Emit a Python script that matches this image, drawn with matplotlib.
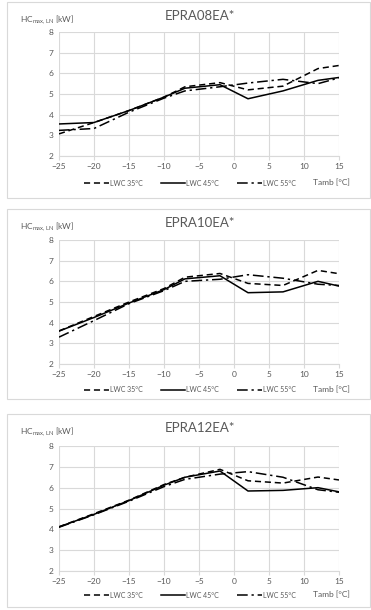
import matplotlib
matplotlib.use("Agg")
import matplotlib.pyplot as plt
from matplotlib.patches import Rectangle

plt.rcParams['font.family'] = ['Lato', 'DejaVu Sans']

W, H = 371, 610

tamb = [-25, -20, -15, -10, -7, -2, 2, 7, 12, 15]
models = ["EPRA08EA*", "EPRA10EA*", "EPRA12EA*"]

# LWC 35 / 45 / 55 °C capacity [kW] per model
lwc35 = [
    [3.07, 3.62, 4.2, 4.85, 5.35, 5.55, 5.2, 5.38, 6.23, 6.38],
    [3.6, 4.3, 5.0, 5.65, 6.2, 6.38, 5.9, 5.8, 6.53, 6.37],
    [4.12, 4.75, 5.4, 6.15, 6.5, 6.88, 6.33, 6.22, 6.51, 6.37],
]
lwc45 = [
    [3.55, 3.62, 4.2, 4.85, 5.28, 5.45, 4.77, 5.15, 5.66, 5.8],
    [3.59, 4.25, 4.95, 5.6, 6.12, 6.27, 5.45, 5.49, 6.0, 5.77],
    [4.12, 4.72, 5.38, 6.12, 6.5, 6.8, 5.84, 5.87, 6.0, 5.8],
]
lwc55 = [
    [3.24, 3.33, 4.12, 4.8, 5.15, 5.35, 5.53, 5.71, 5.5, 5.78],
    [3.3, 4.1, 4.92, 5.55, 6.0, 6.1, 6.32, 6.15, 5.86, 5.8],
    [4.1, 4.7, 5.35, 6.05, 6.4, 6.65, 6.77, 6.5, 5.9, 5.78],
]

series_labels = ["LWC 35°C", "LWC 45°C", "LWC 55°C"]
styles = [(0, (4, 2.5)), "-", (0, (7, 2.5, 1.5, 2.5))]

grey = "#595959"
grid = "#d9d9d9"

fig = plt.figure(figsize=(W / 100, H / 100), dpi=100)

# panel boxes (top, bottom) and plot areas (top, bottom) in pixels
boxes = [(2, 198), (209, 399), (414, 607)]
areas = [(32, 156), (240, 364), (446, 571)]
x0, x1 = 59, 339

for i in range(3):
    bt, bb = boxes[i]
    fig.patches.append(Rectangle((7 / W, 1 - bb / H), 363 / W, (bb - bt) / H,
                                 transform=fig.transFigure, fill=False,
                                 edgecolor=grid, lw=0.8))
    at, ab = areas[i]
    ax = fig.add_axes([x0 / W, 1 - ab / H, (x1 - x0) / W, (ab - at) / H])
    for vals, lab, ls in zip([lwc35[i], lwc45[i], lwc55[i]], series_labels, styles):
        ax.plot(tamb, vals, color="black", lw=1.1, linestyle=ls, label=lab)
    ax.set_xlim(-25, 15)
    ax.set_ylim(2, 8)
    ax.set_xticks(range(-25, 16, 5))
    ax.set_yticks(range(2, 9))
    ax.grid(True, color=grid, lw=0.8)
    ax.set_axisbelow(True)
    for s in ["top", "right", "left"]:
        ax.spines[s].set_visible(False)
    ax.spines["bottom"].set_color(grid)
    ax.tick_params(axis="both", colors=grey, labelsize=6, length=0, pad=4)
    ax.tick_params(axis="x", length=3, color=grid, pad=2)

    fig.text(200 / W, 1 - (bt + 14) / H, models[i], ha="center", va="center",
             fontsize=9.5, color=grey)
    fig.text(20 / W, 1 - (bt + 18) / H, r"HC$_{\mathregular{max,LN}}$ [kW]",
             ha="left", va="center", fontsize=6, color=grey)
    ax.legend(loc="center", bbox_to_anchor=(190 / W, 1 - (bt + 181) / H),
              bbox_transform=fig.transFigure, ncol=3, frameon=False,
              fontsize=5, handlelength=3.5, handletextpad=0.2,
              columnspacing=2.6, labelcolor=grey)
    fig.text(313 / W, 1 - (bt + 181) / H, "Tamb [°C]", ha="left", va="center",
             fontsize=6, color=grey)

fig.savefig("out.png", dpi=100)
